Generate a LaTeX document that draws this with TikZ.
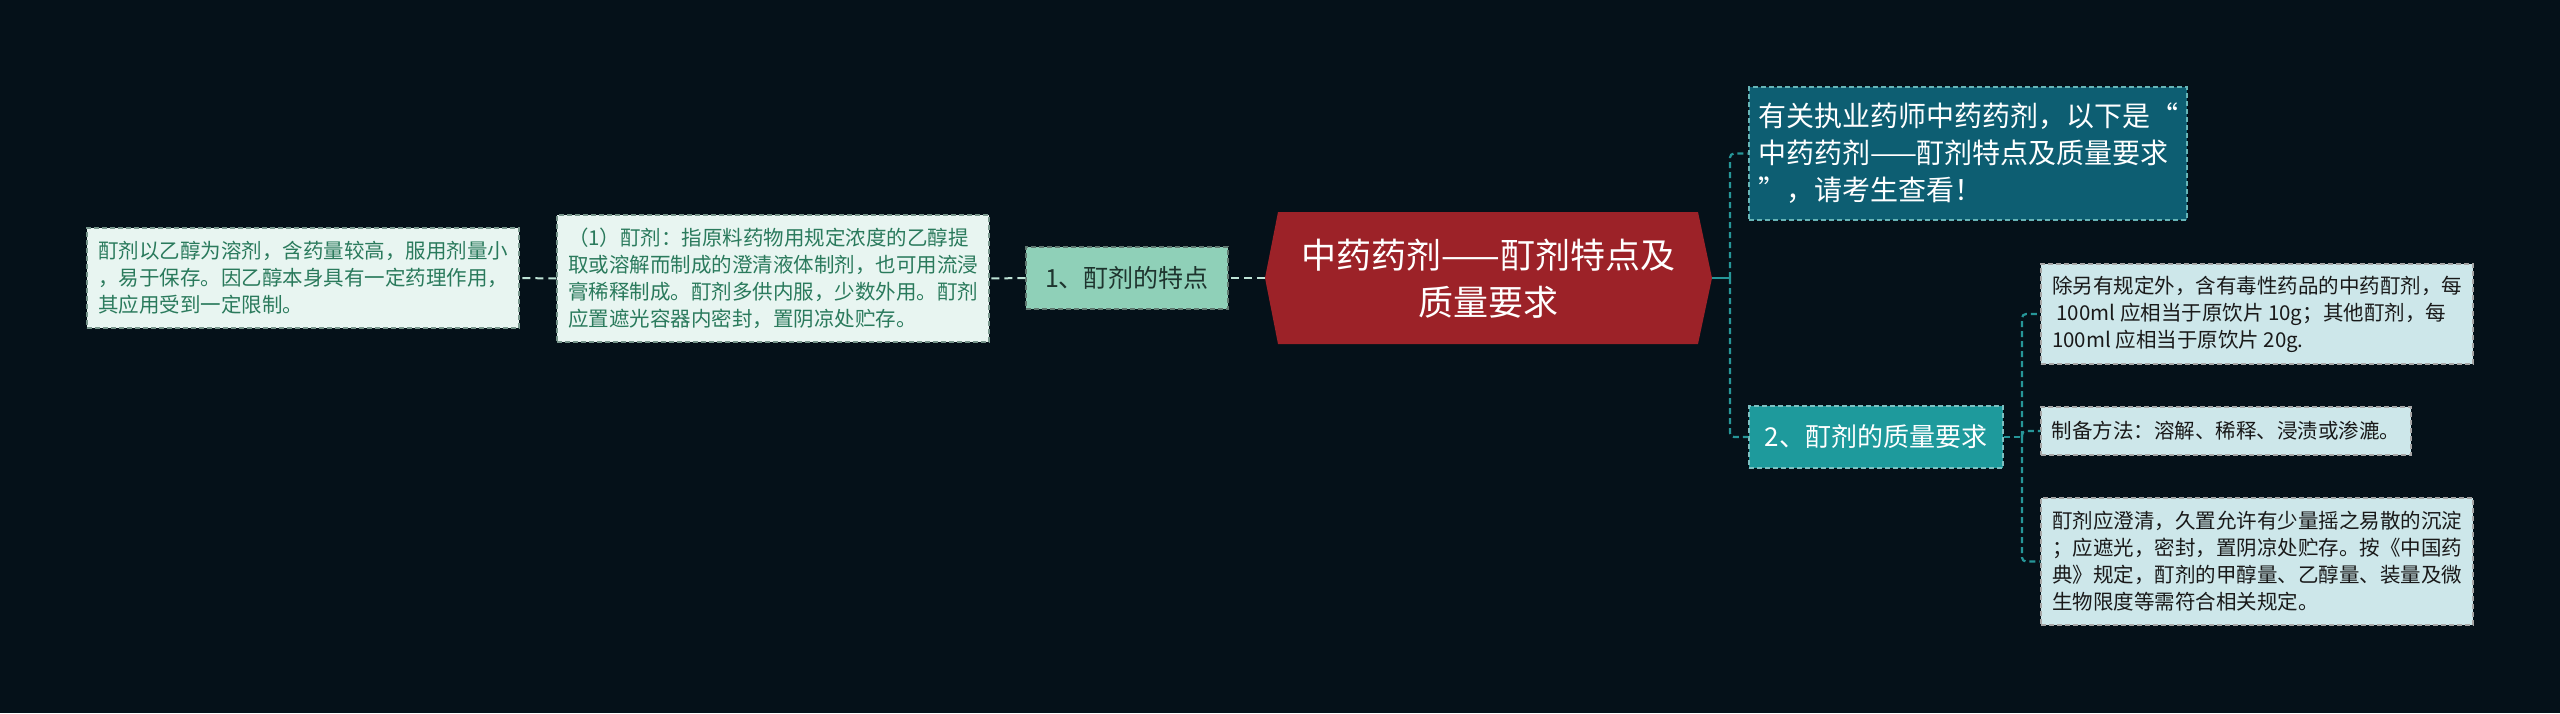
\documentclass[tikz,border=0pt]{standalone}
\usepackage{fontspec}
\setmainfont{Noto Sans CJK SC}
\definecolor{bg}{RGB}{5,17,25}
\definecolor{leafL}{RGB}{232,245,241}
\definecolor{leafLtext}{RGB}{42,122,92}
\definecolor{leafLborder}{RGB}{120,150,140}
\definecolor{subL}{RGB}{143,208,184}
\definecolor{subLtext}{RGB}{30,52,46}
\definecolor{mainred}{RGB}{156,34,40}
\definecolor{topteal}{RGB}{13,94,114}
\definecolor{subR}{RGB}{30,154,156}
\definecolor{leafR}{RGB}{205,231,234}
\definecolor{leafRtext}{RGB}{25,25,25}
\definecolor{lineL}{RGB}{190,228,214}
\definecolor{lineR}{RGB}{38,150,152}
\begin{document}
\begin{tikzpicture}[x=1pt,y=-1pt,
  boxbase/.style={draw, dashed, dash pattern=on 5pt off 3pt, line width=1.2pt, align=left, inner sep=0pt},
  leafleft/.style={boxbase, draw=leafLborder, fill=leafL, text=leafLtext, font=\fontsize{20.5}{27}\selectfont},
  subleft/.style={boxbase, draw=leafLborder!80!black, fill=subL, text=subLtext, font=\fontsize{25}{30}\selectfont},
  topbox/.style={boxbase, draw=lineR!70!white, fill=topteal, text=white, font=\fontsize{28}{37}\selectfont},
  subright/.style={boxbase, draw=lineR!60!white, fill=subR, text=white, font=\fontsize{26}{30}\selectfont},
  leafright/.style={boxbase, draw=gray!70, fill=leafR, text=leafRtext, font=\fontsize{20.5}{27}\selectfont},
  connL/.style={draw=lineL, line width=2pt, dashed, dash pattern=on 8pt off 5pt},
  connR/.style={draw=lineR, line width=2.2pt, dashed, dash pattern=on 6pt off 4pt, rounded corners=4pt},
]
\fill[bg] (0,0) rectangle (2560,713);
\useasboundingbox (0,0) rectangle (2560,713);

% main hexagon
\fill[mainred] (1265,278) -- (1278,212) -- (1698,212) -- (1712,278) -- (1698,344) -- (1278,344) -- cycle;
\node[text=white, align=center, font=\fontsize{35}{47}\selectfont, inner sep=0pt] (main) at (1488.5,279) {中药药剂——酊剂特点及\\质量要求};
\coordinate (mainL) at (1265,278);
\coordinate (mainR) at (1712,278);

% left branch
\node[subleft, minimum width=202pt, minimum height=62pt] (s1) at (1127,278) {1、酊剂的特点};
\node[leafleft, minimum width=432pt, minimum height=127pt] (l2) at (773,278.5) {（1）酊剂：指原料药物用规定浓度的乙醇提\\取或溶解而制成的澄清液体制剂，也可用流浸\\膏稀释制成。酊剂多供内服，少数外用。酊剂\\应置遮光容器内密封，置阴凉处贮存。};
\node[leafleft, minimum width=432pt, minimum height=100pt] (l1) at (303,278) {酊剂以乙醇为溶剂，含药量较高，服用剂量小\\，易于保存。因乙醇本身具有一定药理作用，\\其应用受到一定限制。};

% right branch
\node[topbox, minimum width=438pt, minimum height=133pt] (top) at (1968,153.5) {有关执业药师中药药剂，以下是“\\中药药剂——酊剂特点及质量要求\\”，请考生查看！};
\node[subright, minimum width=254pt, minimum height=62pt] (s2) at (1876,437) {2、酊剂的质量要求};
\node[leafright, minimum width=432pt, minimum height=100pt] (r1) at (2257,314) {除另有规定外，含有毒性药品的中药酊剂，每\\\ 100ml 应相当于原饮片 10g；其他酊剂，每\\100ml 应相当于原饮片 20g.};
\node[leafright, minimum width=370pt, minimum height=48pt] (r2) at (2226,431) {制备方法：溶解、稀释、浸渍或渗漉。};
\node[leafright, minimum width=432pt, minimum height=127pt] (r3) at (2257,561.5) {酊剂应澄清，久置允许有少量摇之易散的沉淀\\；应遮光，密封，置阴凉处贮存。按《中国药\\典》规定，酊剂的甲醇量、乙醇量、装量及微\\生物限度等需符合相关规定。};

% connectors left
\draw[connL] (mainL) -- (s1.east);
\draw[connL] (s1.west) -- (l2.east);
\draw[connL] (l2.west) -- (l1.east);

% connectors right
\coordinate (jr) at (1730,278);
\draw[draw=lineR, line width=2.2pt] (mainR) -- (jr);
\draw[connR] (jr) |- (top.west);
\draw[connR] (jr) |- (s2.west);
\coordinate (jr2) at (2022,437);
\draw[connR] (s2.east) -- (jr2);
\draw[connR] (jr2) |- (r1.west);
\draw[connR] (jr2) -- (r2.west -| jr2) -- (r2.west);
\draw[connR] (jr2) |- (r3.west);
\end{tikzpicture}
\end{document}
